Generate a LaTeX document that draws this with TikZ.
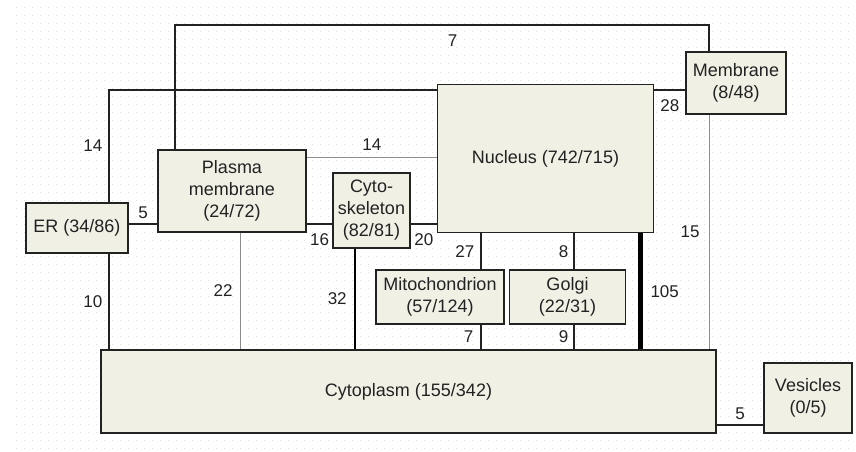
\documentclass[tikz,border=0pt]{standalone}
\usepackage{fontspec}
\setmainfont{Liberation Sans}
\usetikzlibrary{positioning}
\definecolor{BoxFill}{RGB}{241,240,229}
\definecolor{InkGray}{RGB}{34,34,34}
\definecolor{GridDot}{RGB}{218,222,230}

\begin{document}
\begin{tikzpicture}[x=1pt, y=-1pt,
                    box/.style={rectangle, draw=InkGray, fill=BoxFill, line width=1.4pt, align=center, inner sep=0pt, font=\fontsize{18}{22}\selectfont, text=InkGray},
                    link/.style={draw=InkGray, line width=1.5pt},
                    faint/.style={draw=black!45, line width=1pt},
                    heavy/.style={draw=black, line width=2.6pt},
                    trunk/.style={draw=black, line width=5pt},
                    num/.style={font=\fontsize{17}{20}\selectfont, text=InkGray, inner sep=1pt}
                ]
                    % page and dotted grid
                    \fill[white] (0,0) rectangle (856,452);
                    \useasboundingbox (0,0) rectangle (856,452);
                    \foreach \gy in {8,16,...,448}
                        \draw[GridDot, line width=1pt, dash pattern=on 1pt off 7pt] (16,\gy) -- (856,\gy);

                    \node[box, minimum width=102pt, minimum height=50pt] (er) at (77,228) {ER (34/86)};
                    \node[box, minimum width=148pt, minimum height=82pt] (plasma) at (232,191) {Plasma\\membrane\\(24/72)};
                    \node[box, minimum width=77pt, minimum height=75pt] (cyto) at (371.5,210.5) {Cyto-\\skeleton\\(82/81)};
                    \node[box, minimum width=216pt, minimum height=148pt] (nucleus) at (545.5,158.5) {Nucleus (742/715)};
                    \node[box, minimum width=100pt, minimum height=62pt] (membrane) at (736,83) {Membrane\\(8/48)};
                    \node[box, minimum width=128pt, minimum height=54pt] (mito) at (440,297) {Mitochondrion\\(57/124)};
                    \node[box, minimum width=116pt, minimum height=54pt] (golgi) at (567.5,297) {Golgi\\(22/31)};
                    \node[box, minimum width=615pt, minimum height=83pt] (cytoplasm) at (408.5,391.5) {Cytoplasm (155/342)};
                    \node[box, minimum width=88pt, minimum height=70pt] (vesicles) at (808,398) {Vesicles\\(0/5)};

                    \coordinate (ytop) at (0,25);
                    \coordinate (y90) at (0,90);
                    \coordinate (y157) at (0,157);
                    \coordinate (y224) at (0,224);
                    \coordinate (y425) at (0,425);
                    \coordinate (xer) at (109,0);
                    \coordinate (x7) at (175,0);
                    \coordinate (x22) at (240,0);
                    \coordinate (x32) at (355,0);
                    \coordinate (x27) at (481,0);
                    \coordinate (x8) at (574,0);
                    \coordinate (x105) at (640,0);
                    \coordinate (xmem) at (709,0);

                    \draw[link] (plasma.north -| x7) -- (x7 |- ytop) -- node[num, pos=0.52, below=8pt] {7} (xmem |- ytop) -- (membrane.north -| xmem);
                    \draw[link] (er.north -| xer) -- node[num, left=5pt] {14} (xer |- y90) -- (nucleus.west |- y90);
                    \draw[faint] (plasma.east |- y157) -- node[num, above=5pt] {14} (nucleus.west |- y157);
                    \draw[link] (er.east |- y224) -- node[num, above=4pt] {5} (plasma.west |- y224);
                    \draw[link] (plasma.east |- y224) -- node[num, below=8pt] {16} (cyto.west |- y224);
                    \draw[link] (cyto.east |- y224) -- node[num, below=8pt] {20} (nucleus.west |- y224);
                    \draw[link] (nucleus.east |- y90) -- node[num, below=8pt] {28} (membrane.west |- y90);

                    \draw[link] (er.south -| xer) -- node[num, left=5pt] {10} (cytoplasm.north -| xer);
                    \draw[faint] (plasma.south -| x22) -- node[num, left=6pt] {22} (cytoplasm.north -| x22);
                    \draw[heavy] (cyto.south -| x32) -- node[num, left=6pt] {32} (cytoplasm.north -| x32);
                    \draw[link] (nucleus.south -| x27) -- node[num, left=5pt] {27} (mito.north -| x27);
                    \draw[link] (nucleus.south -| x8) -- node[num, left=4pt] {8} (golgi.north -| x8);
                    \draw[link] (mito.south -| x27) -- node[num, left=6pt] {7} (cytoplasm.north -| x27);
                    \draw[link] (golgi.south -| x8) -- node[num, left=4pt] {9} (cytoplasm.north -| x8);
                    \draw[trunk] (nucleus.south -| x105) -- node[num, right=7pt] {105} (cytoplasm.north -| x105);
                    \draw[faint] (membrane.south -| xmem) -- node[num, left=8pt] {15} (cytoplasm.north -| xmem);
                    \draw[link] (cytoplasm.east |- y425) -- node[num, above=4pt] {5} (vesicles.west |- y425);
                \end{tikzpicture}
\end{document}
